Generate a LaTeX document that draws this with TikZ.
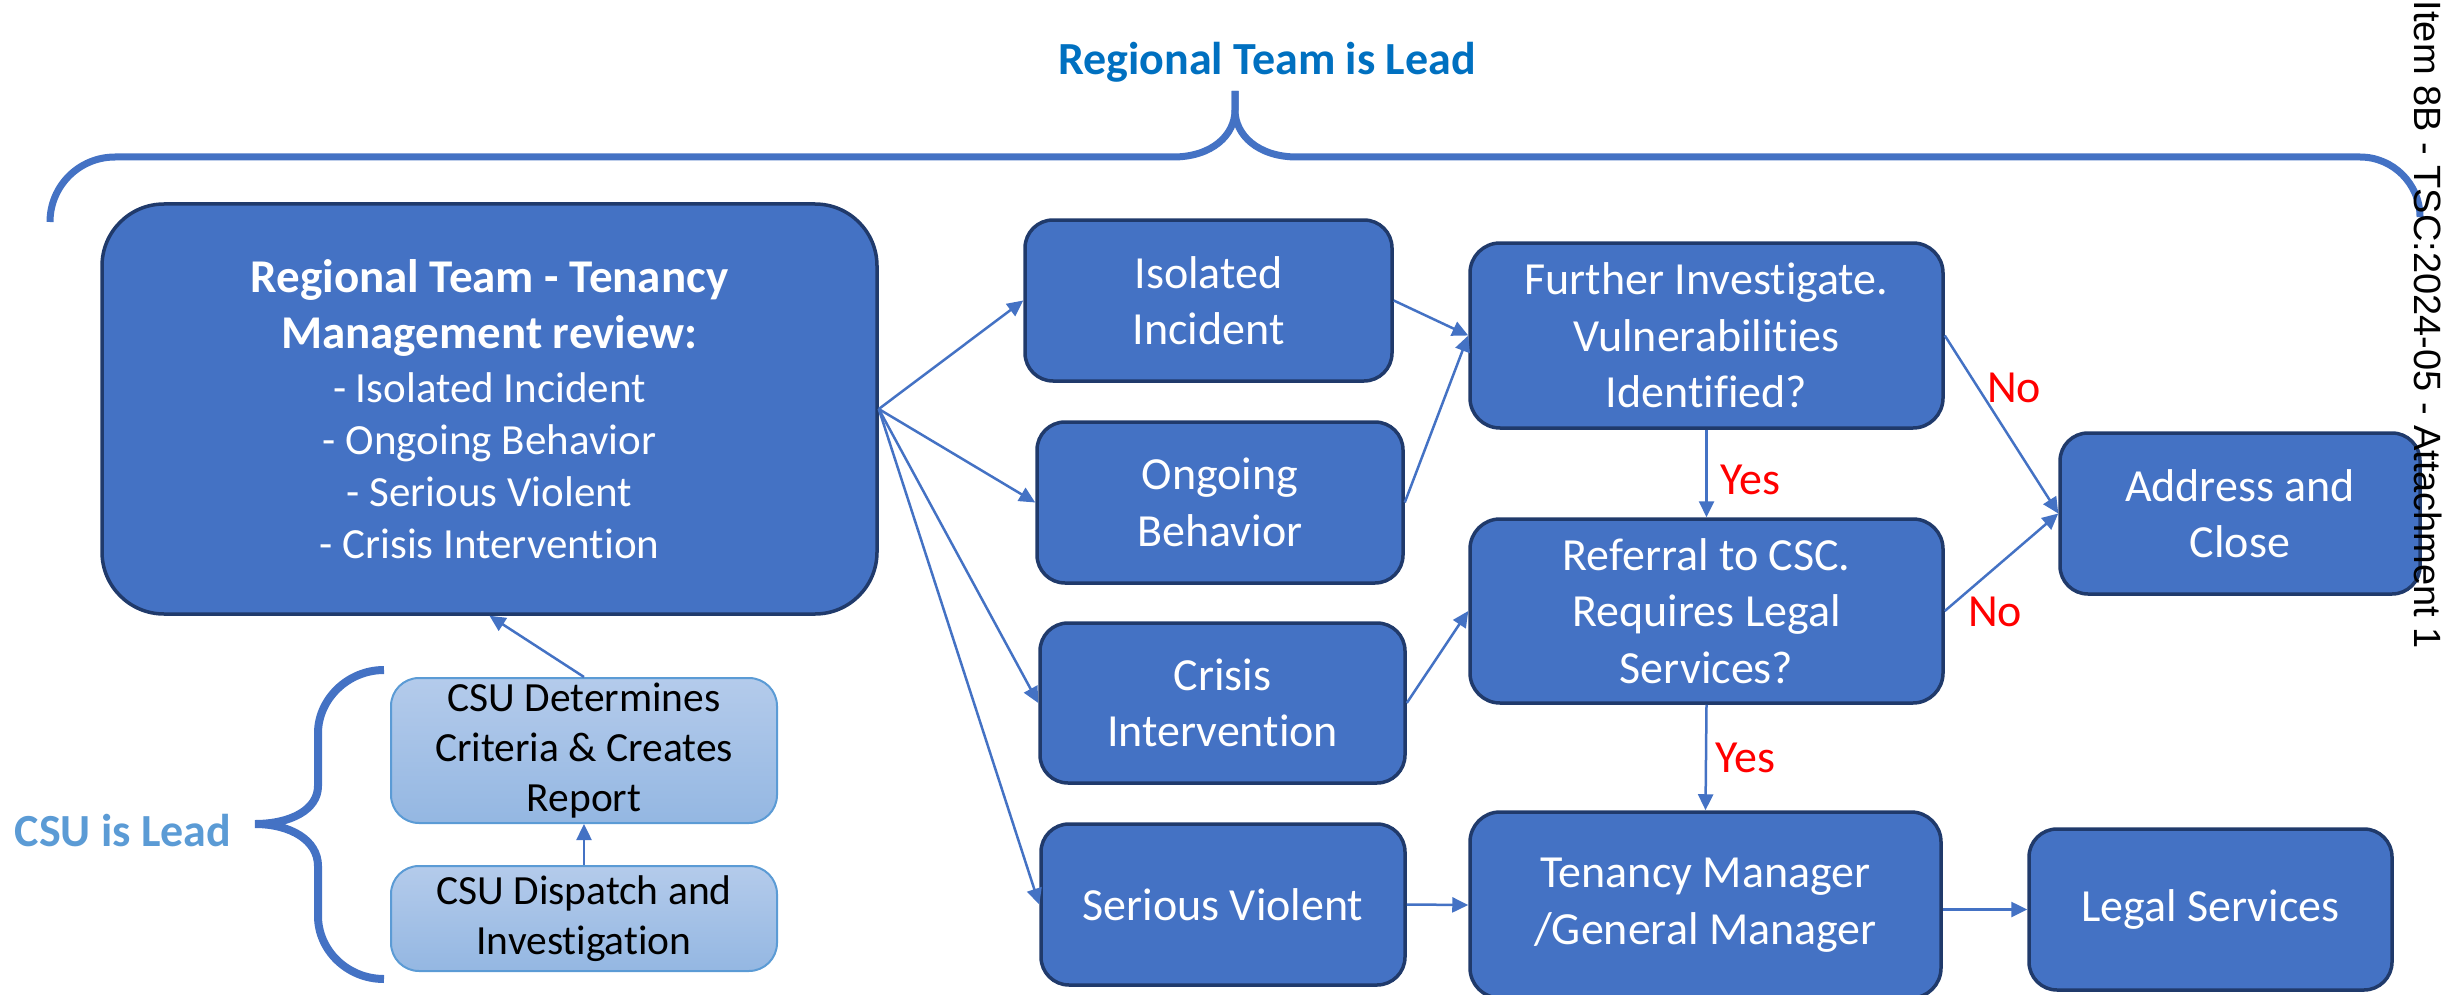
\documentclass[tikz,border=0pt]{standalone}
\usepackage{fontspec}
\setmainfont{Carlito}[Ligatures=NoCommon]
\newfontfamily\arialfont{Liberation Sans}
\usetikzlibrary{arrows.meta}
\definecolor{boxblue}{HTML}{4472C4}
\definecolor{boxedge}{HTML}{203A6B}
\definecolor{lineblue}{HTML}{4472C4}
\definecolor{titleblue}{HTML}{0070C0}
\definecolor{csublue}{HTML}{5B9BD5}
\definecolor{csutop}{HTML}{B4CBEB}
\definecolor{csubot}{HTML}{94B7E2}
\definecolor{csuedge}{HTML}{5B9BD5}
\newcommand\setfs[2]{\fontsize{#1}{#2}\selectfont}
\begin{document}
\begin{tikzpicture}[x=1pt,y=-1pt,
  box/.style={draw=boxedge, line width=3.5pt, fill=boxblue, rounded corners=28pt, text=white, align=center, inner sep=0pt, font=\setfs{46}{56.5}},
  csubox/.style={draw=csuedge, line width=2pt, top color=csutop, bottom color=csubot, rounded corners=28pt, text=black, align=center, inner sep=0pt, font=\setfs{41.5}{50}},
  conn/.style={draw=lineblue, line width=2.5pt, -{Triangle[length=16pt,width=15pt]}},
  lbl/.style={text=red, font=\setfs{46}{56}, inner sep=0pt},
  bracestyle/.style={draw=lineblue, line width=7pt},
]
\useasboundingbox (0,0) rectangle (2451,995);
\clip (0,0) rectangle (2451,995);

% top brace
\draw[bracestyle] (50,222) .. controls (50,186) and (79,157) .. (115,157) -- (1173,157)
  .. controls (1212,157) and (1235,135) .. (1235,110) -- (1235,91);
\draw[bracestyle] (1235,91) -- (1235,110) .. controls (1235,135) and (1258,157) .. (1297,157)
  -- (2360,157) .. controls (2393,157) and (2420,184) .. (2420,217);
% left brace
\draw[draw=lineblue, line width=8pt] (384,670) .. controls (347,670) and (318,700) .. (318,733) -- (318,786)
  .. controls (318,810) and (290,824) .. (255,824)
  .. controls (290,824) and (318,840) .. (318,866) -- (318,916)
  .. controls (318,950) and (347,979) .. (384,979);

\node[font=\setfs{46}{56}\bfseries, text=titleblue, anchor=base, inner sep=0pt] (title) at (1267,75) {Regional Team is Lead};
\node[font=\setfs{46}{56}\bfseries, text=csublue, anchor=base, inner sep=0pt] (csulead) at (123,846) {CSU is Lead};

% boxes
\node[box, rounded corners=62pt, minimum width=775pt, minimum height=410pt, font=\setfs{43}{52}] (main) at (489.5,409)
  {{\setfs{47}{58}\bfseries Regional Team - Tenancy}\\[4pt]{\setfs{47}{58}\bfseries Management review:}\\[2pt]- Isolated Incident\\- Ongoing Behavior\\- Serious Violent\\- Crisis Intervention};
\node[box, minimum width=367pt, minimum height=161pt] (iso) at (1208.5,300.5) {Isolated\\Incident};
\node[box, minimum width=366pt, minimum height=161pt] (ong) at (1220,502.5) {Ongoing\\Behavior};
\node[box, minimum width=365pt, minimum height=160pt] (cri) at (1222.5,703) {Crisis\\Intervention};
\node[box, minimum width=364pt, minimum height=161pt] (ser) at (1223,904.5) {Serious Violent};
\node[box, rounded corners=30pt, minimum width=473pt, minimum height=185pt] (fur) at (1706.5,335.5) {Further Investigate.\\Vulnerabilities\\Identified?};
\node[box, rounded corners=30pt, minimum width=473pt, minimum height=184pt] (ref) at (1706.5,611) {Referral to CSC.\\Requires Legal\\Services?};
\node[box, rounded corners=30pt, minimum width=471pt, minimum height=186pt] (ten) at (1705.5,905) {Tenancy Manager\\/General Manager};
\node[box, minimum width=360pt, minimum height=161pt] (add) at (2240,513.5) {Address and\\Close};
\node[box, minimum width=363pt, minimum height=161pt] (leg) at (2210.5,909.5) {Legal Services};
\node[csubox, minimum width=386pt, minimum height=145pt] (csu1) at (584,750.5) {CSU Determines\\Criteria \& Creates\\Report};
\node[csubox, minimum width=386pt, minimum height=105pt] (csu2) at (584,918.5) {CSU Dispatch and\\Investigation};

% connectors
\draw[conn] (main.east) -- (iso.west);
\draw[conn] (main.east) -- (ong.west);
\draw[conn] (main.east) -- (cri.west);
\draw[conn] (main.east) -- (ser.west);
\draw[conn] (iso.east) -- (fur.west);
\draw[conn] (ong.east) -- (fur.west);
\draw[conn] (cri.east) -- (ref.west);
\draw[conn] (ser.east) -- (ten.west);
\draw[conn] (fur.south) -- (ref.north);
\draw[conn] (ref.south) -- (ten.north);
\draw[conn] (fur.east) -- (add.west);
\draw[conn] (ref.east) -- (add.west);
\draw[conn] (ten.east |- leg.west) -- (leg.west);
\draw[conn] (csu2.north) -- (csu1.south);
\draw[conn] (csu1.north) -- (main.south);

% labels
\node[lbl] (yes1) at (1750,480) {Yes};
\node[lbl] (yes2) at (1745,758) {Yes};
\node[lbl] (no1) at (2014,388) {No};
\node[lbl] (no2) at (1995,612) {No};

\node[font=\arialfont\setfs{38}{44}, rotate=-90, inner sep=0pt] (item) at (2428,325) {Item 8B - TSC:2024-05 - Attachment 1};
\end{tikzpicture}
\end{document}
